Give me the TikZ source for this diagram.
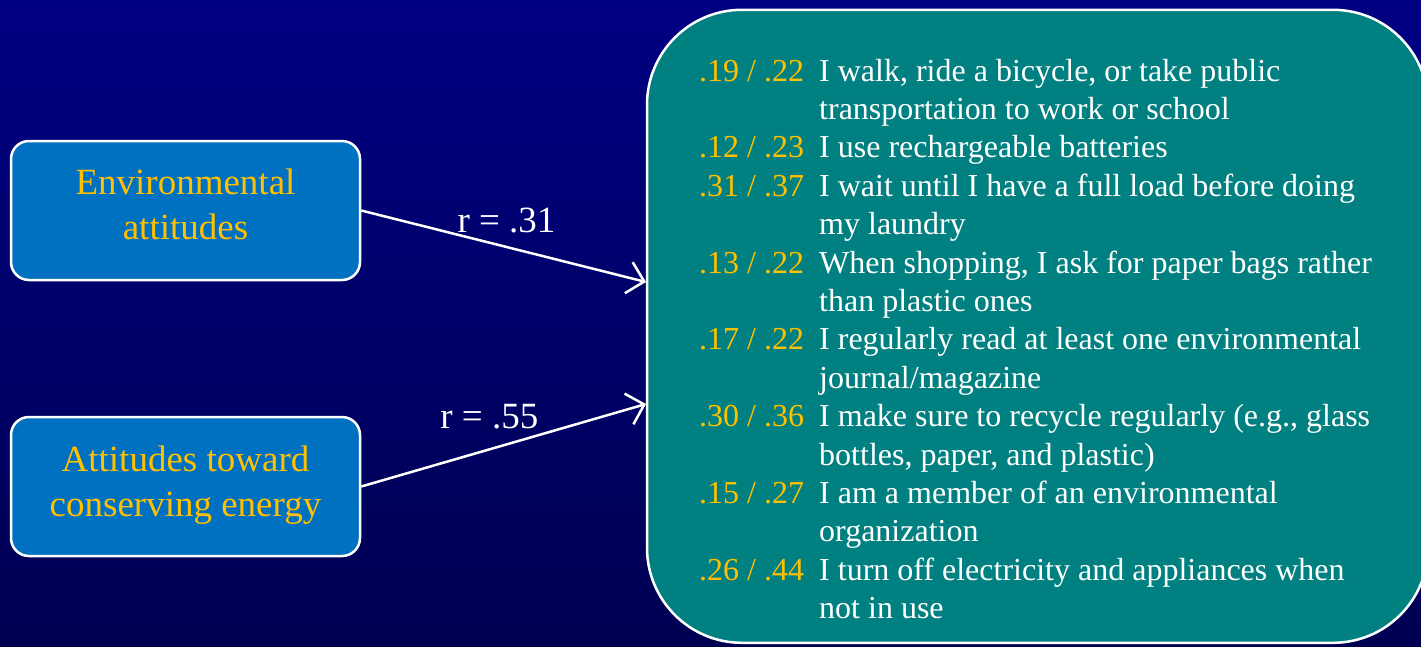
\documentclass[tikz,border=0pt]{standalone}
\usepackage{fontspec}
\setmainfont{Liberation Serif}
\usetikzlibrary{arrows.meta,positioning,calc}

\definecolor{bgtop}{RGB}{0,0,130}
\definecolor{bgbot}{RGB}{0,0,82}
\definecolor{boxblue}{RGB}{0,112,192}
\definecolor{panelteal}{RGB}{0,128,128}
\definecolor{gold}{RGB}{255,192,0}

\tikzset{
  factor/.style={draw=white,line width=2.5pt,fill=boxblue,rounded corners=18pt,
    minimum width=349pt,minimum height=139pt},
  factext/.style={align=center,text=gold,font=\fontsize{37}{45}\selectfont},
  panel/.style={draw=white,line width=2.5pt,fill=panelteal,rounded corners=95pt,
    minimum width=781pt,minimum height=633pt},
  link/.style={white,line width=2.5pt,-{Straight Barb[length=16pt,width=32pt,line width=2.5pt]}},
  rlabel/.style={text=white,font=\fontsize{37}{42}\selectfont},
  item/.style={anchor=base west,inner sep=0pt,text=white,font=\fontsize{32}{38}\selectfont},
  load/.style={item,text=gold}
}

\begin{document}
\begin{tikzpicture}[x=1pt,y=-1pt]
\useasboundingbox (0,0) rectangle (1421,646);
\shade[top color=bgtop,bottom color=bgbot] (0,0) rectangle (1421,646);

% the two attitude scales
\node[factor] (envatt) at (185.5,210.5) {};
\node[factext] (envtxt) at ($(envatt)+(0,-6)$) {Environmental\\attitudes};
\node[factor] (energyatt) at (185.5,486.5) {};
\node[factext] (energytxt) at ($(energyatt)+(0,-1)$) {Attitudes toward\\conserving energy};

% behaviour items
\node[panel] (behav) at (1037.5,326.3) {};
\coordinate (in1) at (646,282);
\coordinate (in2) at (646,404);

\node[load] (n1) at (699,81) {.19 / .22};
\node[item] (i1) at (819,81) {I walk, ride a bicycle, or take public};
\node[item] (i2) at (819,119.4) {transportation to work or school};
\node[load] (n2) at (699,157.8) {.12 / .23};
\node[item] (i3) at (819,157.8) {I use rechargeable batteries};
\node[load] (n3) at (699,196.2) {.31 / .37};
\node[item] (i4) at (819,196.2) {I wait until I have a full load before doing};
\node[item] (i5) at (819,234.6) {my laundry};
\node[load] (n4) at (699,273) {.13 / .22};
\node[item] (i6) at (819,273) {When shopping, I ask for paper bags rather};
\node[item] (i7) at (819,311.4) {than plastic ones};
\node[load] (n5) at (699,349.8) {.17 / .22};
\node[item] (i8) at (819,349.8) {I regularly read at least one environmental};
\node[item] (i9) at (819,388.2) {journal/magazine};
\node[load] (n6) at (699,426.6) {.30 / .36};
\node[item] (i10) at (819,426.6) {I make sure to recycle regularly (e.g., glass};
\node[item] (i11) at (819,465) {bottles, paper, and plastic)};
\node[load] (n7) at (699,503.4) {.15 / .27};
\node[item] (i12) at (819,503.4) {I am a member of an environmental};
\node[item] (i13) at (819,541.8) {organization};
\node[load] (n8) at (699,580.2) {.26 / .44};
\node[item] (i14) at (819,580.2) {I turn off electricity and appliances when};
\node[item] (i15) at (819,618.6) {not in use};

% correlations
\draw[link] (envatt.east) -- node[rlabel,pos=0.51,above=9pt] (r1) {r = .31} (in1);
\draw[link] (energyatt.east) -- node[rlabel,pos=0.45,above=16pt] (r2) {r = .55} (in2);
\end{tikzpicture}
\end{document}
